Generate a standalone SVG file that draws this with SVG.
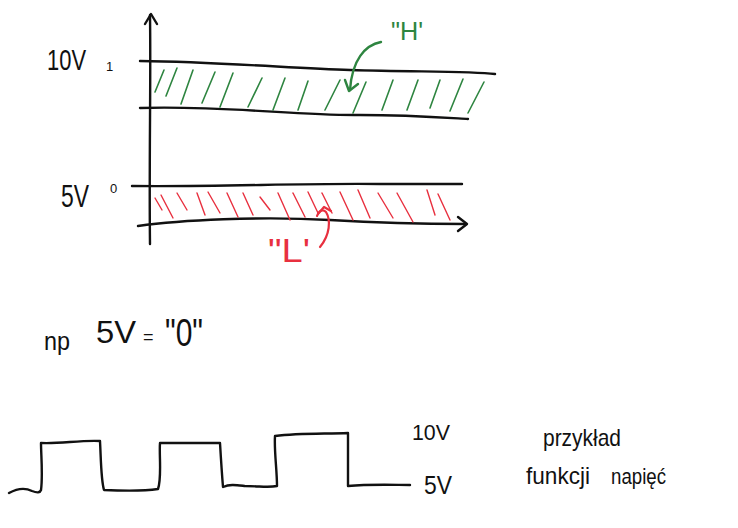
<svg xmlns="http://www.w3.org/2000/svg" width="738" height="528" viewBox="0 0 738 528">
<style>
.ink{fill:none;stroke:#111;stroke-width:2.4;stroke-linecap:round;stroke-linejoin:round}
.g{fill:none;stroke:#2e8540;stroke-width:1.6;stroke-linecap:round}
.gk{fill:none;stroke:#2e8540;stroke-width:2.4;stroke-linecap:round;stroke-linejoin:round}
.r{fill:none;stroke:#e8303f;stroke-width:1.4;stroke-linecap:round}
.rk{fill:none;stroke:#e8303f;stroke-width:2.2;stroke-linecap:round;stroke-linejoin:round}
.t{font-family:"Liberation Sans","DejaVu Sans",sans-serif;fill:#111}
.tg{font-family:"Liberation Sans","DejaVu Sans",sans-serif;fill:#2e8540}
.tr{font-family:"Liberation Sans","DejaVu Sans",sans-serif;fill:#e8303f}
</style>
<g id="axes">
<path class="ink" d="M150,15 C151,80 149,160 150,244"/>
<path class="ink" d="M145,24 L151,14 L157,24"/>
<path class="ink" d="M138,226 C180,220 260,216 330,220 C380,223 430,224 466,224"/>
<path class="ink" d="M458,217 L467,224 L458,231"/>
</g>
<g id="band-high">
<path class="ink" d="M140,61 C220,62 290,68 350,70 C420,72 470,71 495,74"/>
<path class="ink" d="M140,108 C220,105 300,116 360,115 C410,115 450,118 468,119"/>
<g id="hatch-green">
<path class="g" d="M164,70 L155,92"/>
<path class="g" d="M177,68 L166,96"/>
<path class="g" d="M193,70 L181,104"/>
<path class="g" d="M215,72 L202,103"/>
<path class="g" d="M233,73 L220,107"/>
<path class="g" d="M262,78 L248,107"/>
<path class="g" d="M285,78 L273,110"/>
<path class="g" d="M308,81 L298,110"/>
<path class="g" d="M340,80 L325,110"/>
<path class="g" d="M366,82 L353,113"/>
<path class="g" d="M393,80 L382,110"/>
<path class="g" d="M418,80 L407,110"/>
<path class="g" d="M440,80 L430,108"/>
<path class="g" d="M463,79 L450,111"/>
<path class="g" d="M484,82 L468,113"/>
</g>
</g>
<g id="band-low">
<path class="ink" d="M132,186 C220,187 300,183 380,184 C420,184 445,184 462,184"/>
<g id="hatch-red">
<path class="r" d="M155,198 L162,210"/>
<path class="r" d="M161,195 L173,218"/>
<path class="r" d="M177,193 L187,210"/>
<path class="r" d="M197,193 L205,215"/>
<path class="r" d="M208,192 L220,213"/>
<path class="r" d="M227,193 L238,217"/>
<path class="r" d="M243,193 L253,215"/>
<path class="r" d="M260,197 L270,210"/>
<path class="r" d="M278,193 L290,220"/>
<path class="r" d="M293,193 L305,217"/>
<path class="r" d="M308,192 L318,213"/>
<path class="r" d="M322,193 L332,213"/>
<path class="r" d="M340,192 L353,220"/>
<path class="r" d="M358,190 L370,218"/>
<path class="r" d="M378,193 L393,218"/>
<path class="r" d="M397,193 L413,222"/>
<path class="r" d="M427,190 L435,215"/>
<path class="r" d="M438,194 L450,220"/>
</g>
</g>
<g id="label-H">
<text class="tg" x="391" y="40" font-size="26" textLength="32" lengthAdjust="spacingAndGlyphs">"H'</text>
<path class="gk" d="M381,42 C365,45 352,60 350,90"/>
<path class="gk" d="M345,80 L349,91 L358,84"/>
</g>
<g id="label-L">
<text class="tr" x="268" y="262" font-size="34" textLength="42" lengthAdjust="spacingAndGlyphs">"L'</text>
<path class="rk" d="M320,247 C330,235 331,220 326,212 C322,208 318,212 317,216"/>
<path class="rk" d="M318,214 L324,207 L331,211"/>
</g>
<g id="levels">
<text class="t" x="47" y="70" font-size="30" textLength="39" lengthAdjust="spacingAndGlyphs">10V</text>
<text class="t" x="106" y="71" font-size="13">1</text>
<text class="t" x="61" y="207" font-size="32" textLength="28" lengthAdjust="spacingAndGlyphs">5V</text>
<text class="t" x="110" y="193" font-size="13">0</text>
</g>
<g id="note">
<text class="t" x="44" y="350" font-size="26" textLength="26" lengthAdjust="spacingAndGlyphs">np</text>
<text class="t" x="96" y="343" font-size="32" textLength="40" lengthAdjust="spacingAndGlyphs">5V</text>
<text class="t" x="143" y="343" font-size="18">=</text>
<text class="t" x="165" y="346" font-size="38" textLength="38" lengthAdjust="spacingAndGlyphs">"0"</text>
</g>
<g id="waveform">
<path class="ink" d="M9,493 C18,488 26,488 32,491 C37,493 40,493 41,490 C43,475 41,455 41,443 C60,444 80,440 100,441 C101,460 101,480 104,490 C125,491 145,491 158,489 C162,478 159,455 160,443 C180,443 200,443 220,443 C221,460 222,475 223,487 C230,484 236,485 245,486 C260,486 268,488 277,486 C277,470 274,450 275,436 C300,433 325,434 348,433 C348,450 348,470 348,486 C370,484 395,485 410,485"/>
<text class="t" x="412" y="440" font-size="22" textLength="38" lengthAdjust="spacingAndGlyphs">10V</text>
<text class="t" x="424" y="494" font-size="26" textLength="28" lengthAdjust="spacingAndGlyphs">5V</text>
</g>
<g id="caption">
<text class="t" x="543" y="446" font-size="24" textLength="78" lengthAdjust="spacingAndGlyphs">przykład</text>
<text class="t" x="526" y="484" font-size="24" textLength="64" lengthAdjust="spacingAndGlyphs">funkcji</text>
<text class="t" x="611" y="484" font-size="22" textLength="55" lengthAdjust="spacingAndGlyphs">napięć</text>
</g>
</svg>
